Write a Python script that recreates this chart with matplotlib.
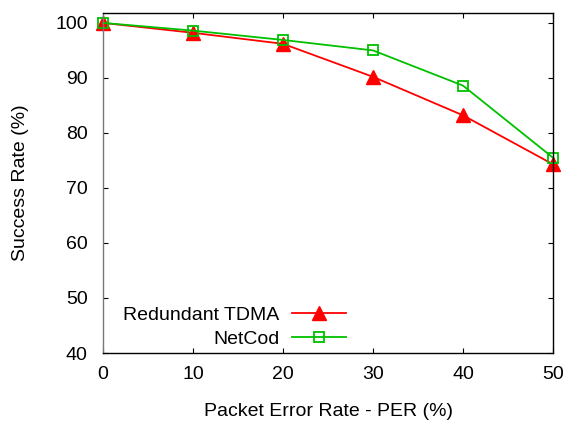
import numpy as np
import matplotlib
matplotlib.use("Agg")
from matplotlib import pyplot as plt

plt.rcParams['font.family'] = ['Liberation Sans', 'DejaVu Sans']

per = [0, 10, 20, 30, 40, 50]
tdma = [100, 98.2, 96.2, 90.2, 83.2, 74.3]
netcod = [100, 98.6, 96.9, 95.0, 88.6, 75.5]

fig = plt.figure(figsize=(5.64, 4.23), dpi=100)
ax = fig.add_axes([103 / 564, 1 - 353 / 423, 450 / 564, 340 / 423])

ax.plot(per, tdma, color='#ff0000', lw=1.3, marker='^', ms=10, label='Redundant TDMA',
        clip_on=False)
ax.plot(per, netcod, color='#00c000', lw=1.3, marker='s', ms=7, mfc='none', mew=1.3,
        label='NetCod', clip_on=False)

ax.set_xlim(0, 50)
ax.set_ylim(40, 101.8)
ax.set_xticks(np.arange(0, 51, 10))
ax.set_yticks(np.arange(40, 101, 10))
ax.tick_params(direction='in', length=3.5, width=0.8, top=True, right=True,
               labelsize=14, colors='black')
ax.tick_params(axis='y', pad=11)
ax.tick_params(axis='x', pad=9)
for s in ax.spines.values():
    s.set_linewidth(1.0)
ax.spines['left'].set_color('#777777')

ax.set_xlabel('Packet Error Rate - PER (%)', fontsize=14, labelpad=15)
ax.set_ylabel('Success Rate (%)', fontsize=14, labelpad=19)

ax.legend(loc='center right', bbox_to_anchor=(356 / 564, 1 - 327 / 423),
          bbox_transform=fig.transFigure, markerfirst=False, frameon=False,
          fontsize=14, handlelength=2.8, handletextpad=0.65, borderpad=0,
          labelspacing=0.35)

fig.savefig('out.png', dpi=100)
